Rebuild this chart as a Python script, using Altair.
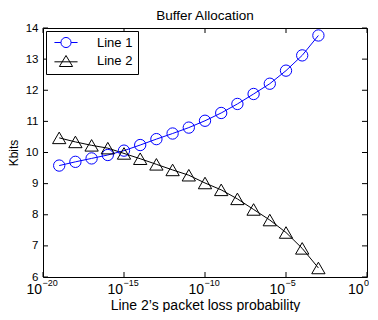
import altair as alt
import pandas as pd

# ---------------- data ----------------
p_values = [1e-19, 1e-18, 1e-17, 1e-16, 1e-15, 1e-14, 1e-13, 1e-12, 1e-11,
            1e-10, 1e-09, 1e-08, 1e-07, 1e-06, 1e-05, 1e-04, 1e-03]
line1 = [9.58, 9.70, 9.81, 9.92, 10.06, 10.24, 10.43, 10.61, 10.80,
         11.02, 11.27, 11.56, 11.88, 12.21, 12.63, 13.12, 13.76]
line2 = [10.47, 10.34, 10.23, 10.14, 9.97, 9.80, 9.62, 9.44, 9.27,
         9.02, 8.80, 8.51, 8.17, 7.83, 7.43, 6.92, 6.29]
series_names = ["Line 1", "Line 2"]
series_colors = ["#0000ff", "#000000"]

y_ticks = [6, 7, 8, 9, 10, 11, 12, 13, 14]
x_tick_values = [1e-20, 1e-15, 1e-10, 1e-05, 1.0]
x_tick_exps = ["\u221220", "\u221215", "\u221210", "\u22125", "0"]

title_text = "Buffer Allocation"
x_title = "Line 2\u2019s packet loss probability"
y_title = "Kbits"

# ---------------- layout / style ----------------
FONT = "Liberation Sans"
W, H = 324, 249

xscale = alt.Scale(type="log", domain=[1e-20, 1.0], nice=False)
yscale = alt.Scale(domain=[6, 14], nice=False, zero=False)

x_axis = alt.Axis(labels=False, ticks=False, domain=False, grid=False,
                  title=x_title, titleFont=FONT, titleFontSize=14,
                  titleFontWeight="normal", titleColor="black",
                  titleX=W / 2, titleY=32, titleBaseline="alphabetic",
                  titleAlign="center")
y_axis = alt.Axis(values=y_ticks, ticks=False, domain=False, grid=False,
                  labelFont=FONT, labelFontSize=11.5, labelColor="black",
                  labelPadding=5,
                  title=y_title, titleFont=FONT, titleFontSize=12,
                  titleFontWeight="normal", titleColor="black",
                  titleX=-26, titleY=H / 2, titleAngle=270,
                  titleBaseline="alphabetic", titleAlign="center")


def X(field):
    return alt.X(field, type="quantitative", scale=xscale, axis=x_axis)


def Y(field):
    return alt.Y(field, type="quantitative", scale=yscale, axis=y_axis)


df1 = pd.DataFrame({"p": p_values, "kbits": line1})
df2 = pd.DataFrame({"p": p_values, "kbits": line2})
df_all = pd.DataFrame({
    "p": p_values + p_values,
    "kbits": line1 + line2,
    "series": [series_names[0]] * len(p_values) + [series_names[1]] * len(p_values),
})
df_yt = pd.DataFrame({"v": y_ticks})
df_xt = pd.DataFrame({"v": x_tick_values, "lab": x_tick_exps})
df_title = pd.DataFrame({"t": [title_text]})

# inward ticks on all four sides
tick_l = alt.Chart(df_yt).mark_rule(color="black", strokeWidth=1).encode(
    y=Y("v"), x=alt.value(0), x2=alt.value(5))
tick_r = alt.Chart(df_yt).mark_rule(color="black", strokeWidth=1).encode(
    y=Y("v"), x=alt.value(W - 5), x2=alt.value(W))
tick_b = alt.Chart(df_xt).mark_rule(color="black", strokeWidth=1).encode(
    x=X("v"), y=alt.value(H - 5), y2=alt.value(H))
tick_t = alt.Chart(df_xt).mark_rule(color="black", strokeWidth=1).encode(
    x=X("v"), y=alt.value(0), y2=alt.value(5))

# data lines and markers
l1 = alt.Chart(df1).mark_line(color=series_colors[0], strokeWidth=1).encode(x=X("p"), y=Y("kbits"))
l2 = alt.Chart(df2).mark_line(color=series_colors[1], strokeWidth=1).encode(x=X("p"), y=Y("kbits"))
p1 = alt.Chart(df1).mark_point(shape="circle", filled=False, color=series_colors[0],
                               size=128, strokeWidth=1, opacity=1).encode(x=X("p"), y=Y("kbits"))
p2 = alt.Chart(df2).mark_point(shape="triangle-up", filled=False, color=series_colors[1],
                               size=177, strokeWidth=1, opacity=1).encode(x=X("p"), y=Y("kbits"))

# legend (line + marker symbols)
circle_path = ("M-2.1,0L-0.92,0M0.92,0L2.1,0"
               "M0.92,0A0.92,0.92 0 1,1 -0.92,0A0.92,0.92 0 1,1 0.92,0")
tri_path = "M-2.1,0.15L2.1,0.15M0,-1L1.2,1L-1.2,1Z"
leg = alt.Legend(title=None, orient="top-left", offset=3, padding=5,
                 strokeColor="black", fillColor="white", cornerRadius=0,
                 symbolSize=121, symbolStrokeWidth=1, symbolOffset=8.5,
                 labelOffset=24.5, labelFont=FONT, labelFontSize=13,
                 labelColor="black", rowPadding=3.5,
                 labelExpr="datum.label + ' '")
legend_layer = alt.Chart(df_all).transform_filter("false").mark_point(
    filled=False, strokeWidth=1, opacity=1).encode(
    x=X("p"), y=Y("kbits"),
    color=alt.Color("series:N", scale=alt.Scale(domain=series_names, range=series_colors), legend=leg),
    shape=alt.Shape("series:N", scale=alt.Scale(domain=series_names, range=[circle_path, tri_path]), legend=leg),
)

# x tick labels "10" with superscript exponent
BASE_Y = H + 17
EXP_Y = H + 9
base_neg = alt.Chart(df_xt).transform_filter("datum.v < 1").mark_text(
    align="right", baseline="alphabetic", font=FONT, fontSize=14, color="black", dx=-1).encode(
    x=X("v"), y=alt.value(BASE_Y), text=alt.value("10"))
base_zero = alt.Chart(df_xt).transform_filter("datum.v >= 1").mark_text(
    align="right", baseline="alphabetic", font=FONT, fontSize=14, color="black", dx=-3.5).encode(
    x=X("v"), y=alt.value(BASE_Y), text=alt.value("10"))
exp_neg = alt.Chart(df_xt).transform_filter("datum.v < 1").mark_text(
    align="left", baseline="alphabetic", font=FONT, fontSize=9, color="black", dx=-0.5).encode(
    x=X("v"), y=alt.value(EXP_Y), text="lab:N")
exp_zero = alt.Chart(df_xt).transform_filter("datum.v >= 1").mark_text(
    align="left", baseline="alphabetic", font=FONT, fontSize=9, color="black", dx=-3).encode(
    x=X("v"), y=alt.value(EXP_Y), text="lab:N")

# chart title
title_mark = alt.Chart(df_title).mark_text(
    align="center", baseline="alphabetic", font=FONT, fontSize=13.5, color="black").encode(
    x=alt.value(W / 2), y=alt.value(-8.5), text="t:N")

chart = alt.layer(
    tick_l, tick_r, tick_b, tick_t, l1, l2, p1, p2, legend_layer,
    base_neg, base_zero, exp_neg, exp_zero, title_mark,
).properties(
    width=W, height=H,
    padding={"left": 35, "top": 20, "right": 2, "bottom": 35},
    autosize=alt.AutoSizeParams(type="none"),
).configure(font=FONT, background="white").configure_view(stroke="black", strokeWidth=1)

chart.save("out.html", embed_options={"renderer": "svg", "actions": False})
